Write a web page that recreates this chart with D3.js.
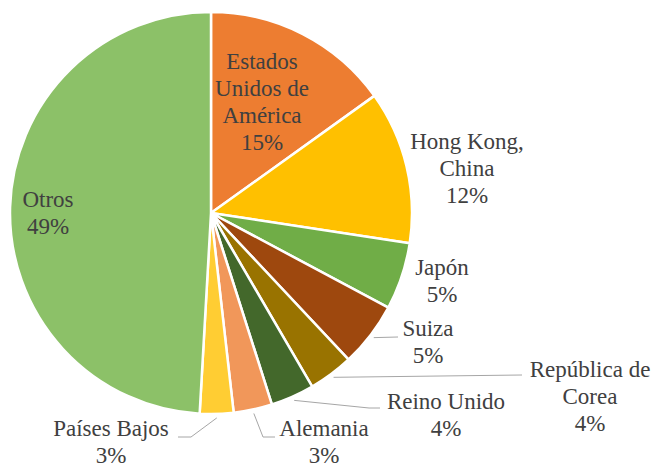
<!DOCTYPE html>
<html>
<head>
<meta charset="utf-8">
<script src="https://cdn.jsdelivr.net/npm/d3@7"></script>
</head>
<body style="margin:0">
<div id="chart" style="position:relative;width:656px;height:465px;"></div>
<script>
// Datos (porcentajes)
const paises = ["Estados Unidos de América", "Hong Kong, China", "Japón", "Suiza",
    "República de Corea", "Reino Unido", "Alemania", "Países Bajos", "Otros"];
const valores = [15.1, 12.3, 5.4, 5.2, 3.6, 3.5, 3.1, 2.7, 49.1];
const etiquetas = [
    ["Estados", "Unidos de", "América"],
    ["Hong Kong,", "China"],
    ["Japón"],
    ["Suiza"],
    ["República de", "Corea"],
    ["Reino Unido"],
    ["Alemania"],
    ["Países Bajos"],
    ["Otros"]
];
const colores = ["#ED7D31", "#FFC000", "#70AD47", "#9E480E", "#997300",
    "#43682B", "#F1975A", "#FFCD33", "#8CC168"];

const width = 656, height = 465;
const cx = 211, cy = 213, radius = 201;
const lineH = 27;

// posición de cada etiqueta (centro x, centro y de la primera línea) y líneas guía
const layout = [
    { x: 262, y: 62 },
    { x: 467, y: 142 },
    { x: 442, y: 268 },
    { x: 428, y: 329, guide: [[398, 337]] },
    { x: 590, y: 370, guide: [[522, 375]] },
    { x: 446, y: 402, guide: [[369, 408], [380, 408]] },
    { x: 324, y: 429, guide: [[263, 437], [275, 437]] },
    { x: 111, y: 429, guide: [[191, 437], [178, 437]] },
    { x: 48, y: 200 }
];

const data = paises.map((p, i) => ({ pais: p, valor: valores[i], lineas: etiquetas[i], color: colores[i], pos: layout[i] }));

const chart = d3.select("#chart");
const svg = chart.append("svg")
    .attr("width", width)
    .attr("height", height)
    .style("position", "absolute")
    .style("left", 0)
    .style("top", 0);

const pie = d3.pie().sort(null).value(d => d.valor).startAngle(0).endAngle(2 * Math.PI);
const arc = d3.arc().innerRadius(0).outerRadius(radius);
const arcs = pie(data);

svg.selectAll("path")
    .data(arcs)
    .join("path")
    .attr("transform", `translate(${cx},${cy})`)
    .attr("d", arc)
    .attr("fill", d => d.data.color)
    .attr("stroke", "#fff")
    .attr("stroke-width", 2.5)
    .attr("stroke-linejoin", "round");

// líneas guía
svg.selectAll("polyline")
    .data(arcs.filter(d => d.data.pos.guide))
    .join("polyline")
    .attr("fill", "none")
    .attr("stroke", "#A6A6A6")
    .attr("stroke-width", 1)
    .attr("points", d => {
        const a = (d.startAngle + d.endAngle) / 2;
        const r = radius + 4;
        const start = [cx + r * Math.sin(a), cy - r * Math.cos(a)];
        return [start, ...d.data.pos.guide].map(p => p.join(",")).join(" ");
    });

// etiquetas como texto HTML encima del svg
const lineas = [];
arcs.forEach(d => {
    d.data.lineas.concat([Math.round(d.data.valor) + "%"]).forEach((l, i) => {
        lineas.push({ texto: l, x: d.data.pos.x, y: d.data.pos.y + i * lineH });
    });
});

chart.selectAll("div.lbl")
    .data(lineas)
    .join("div")
    .attr("class", "lbl")
    .style("position", "absolute")
    .style("left", d => (d.x - 100) + "px")
    .style("top", d => (d.y - 13) + "px")
    .style("width", "200px")
    .style("height", "26px")
    .style("line-height", "26px")
    .style("text-align", "center")
    .style("white-space", "nowrap")
    .style("font-family", "\"Liberation Serif\"")
    .style("font-size", "23px")
    .style("color", "#404040")
    .text(d => d.texto);
</script>
</body>
</html>
